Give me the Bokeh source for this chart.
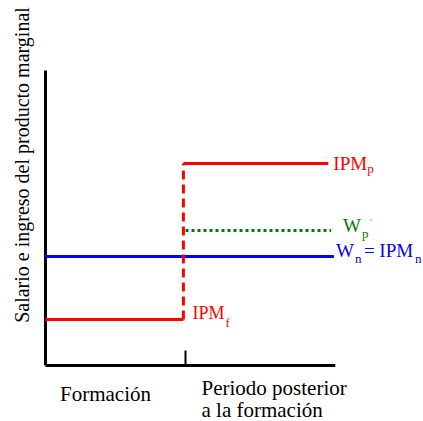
from bokeh.plotting import figure
from bokeh.embed import file_html
from bokeh.resources import INLINE
from bokeh.core.properties import value
from bokeh.models import Range1d
import math

# --- data (arbitrary units) ---
periods = ["Formación", "Periodo posterior\na la formación"]
period_edges = [0.0, 1.0, 2.0]
ipm_f = 4.6      # productivity during training
w_n = 10.9       # wage = IPM without training
w_p = 13.5       # wage after training
ipm_p = 20.2     # productivity after training
y_top = 29.5
x_end_axis = 2.07
x_end_ipm_p = 2.02
x_end_w_p = 2.04
x_end_w_n = 2.06

FONT = value("'Liberation Serif', 'Times New Roman', serif")

p = figure(width=423, height=421, output_backend="svg", toolbar_location=None,
           x_range=Range1d(-45 / 140, 378 / 140), y_range=Range1d(-5.6, 36.5),
           min_border=0)
p.axis.visible = False
p.grid.visible = False
p.outline_line_color = None
p.background_fill_color = "white"
p.border_fill_color = "white"

# axes
p.line([0, 0], [0, y_top], line_color="black", line_width=3)
p.line([0, x_end_axis], [0, 0], line_color="black", line_width=3)
p.line([period_edges[1], period_edges[1]], [0, 1.5], line_color="black", line_width=2)

RED = "#ff0000"
BLUE = "#0000ff"
GREEN = "#007a00"

# W_n = IPM_n
p.line([0, x_end_w_n], [w_n, w_n], line_color=BLUE, line_width=3)
# IPM_f during training
p.line([0, period_edges[1] - 0.015], [ipm_f, ipm_f], line_color=RED, line_width=3)
# jump
p.line([period_edges[1] - 0.015] * 2, [ipm_f, ipm_p], line_color=RED, line_width=3,
       line_dash="9 5")
# IPM_p after training
p.line([period_edges[1] - 0.015, x_end_ipm_p], [ipm_p, ipm_p], line_color=RED, line_width=3)
# W_p dotted
p.line([period_edges[1], x_end_w_p], [w_p, w_p], line_color=GREEN, line_width=3,
       line_dash="3 3")

def label(x, y, txt, color, size="19px", xo=0, yo=0, align="left", angle=0):
    p.text(x=[x], y=[y], text=[txt], text_color=color, text_font=FONT,
           text_font_size=size, text_align=align, text_baseline="middle",
           x_offset=xo, y_offset=yo, angle=angle)

SUB = "13px"
# IPM_p
label(x_end_ipm_p, ipm_p, "IPM", RED, xo=5, yo=0)
label(x_end_ipm_p, ipm_p, "p", RED, size=SUB, xo=39, yo=5)
# W_p'
label(x_end_w_p, w_p, "W", GREEN, xo=12, yo=-5)
label(x_end_w_p, w_p, "p", GREEN, size=SUB, xo=31, yo=3)
label(x_end_w_p, w_p, "'", GREEN, size="9px", xo=39, yo=-9)
# W_n = IPM_n
label(x_end_w_n, w_n, "W", BLUE, xo=2, yo=-6)
label(x_end_w_n, w_n, "n", BLUE, size=SUB, xo=21, yo=2)
label(x_end_w_n, w_n, "= IPM", BLUE, xo=30, yo=-6)
label(x_end_w_n, w_n, "n", BLUE, size=SUB, xo=81, yo=2)
# IPM_f
label(period_edges[1], ipm_f, "IPM", RED, size="18px", xo=7, yo=-7)
label(period_edges[1], ipm_f, "f", RED, size=SUB, xo=40, yo=3)

# period labels
label((period_edges[0] + period_edges[1]) / 2, 0, periods[0], "black", size="21px",
      align="center", xo=-10, yo=28)
lines2 = periods[1].split("\n")
label(period_edges[1], 0, lines2[0], "black", size="21px", xo=16, yo=22)
label(period_edges[1], 0, lines2[1], "black", size="21px", xo=16, yo=44)

# y label
p.text(x=[0], y=[y_top / 2 + 5.3], text=["Salario e ingreso del producto marginal"],
       text_color="black", text_font=FONT, text_font_size="20px", text_align="center",
       text_baseline="middle", angle=math.pi / 2, x_offset=-24)

open("out.html", "w").write(file_html(p, INLINE))
